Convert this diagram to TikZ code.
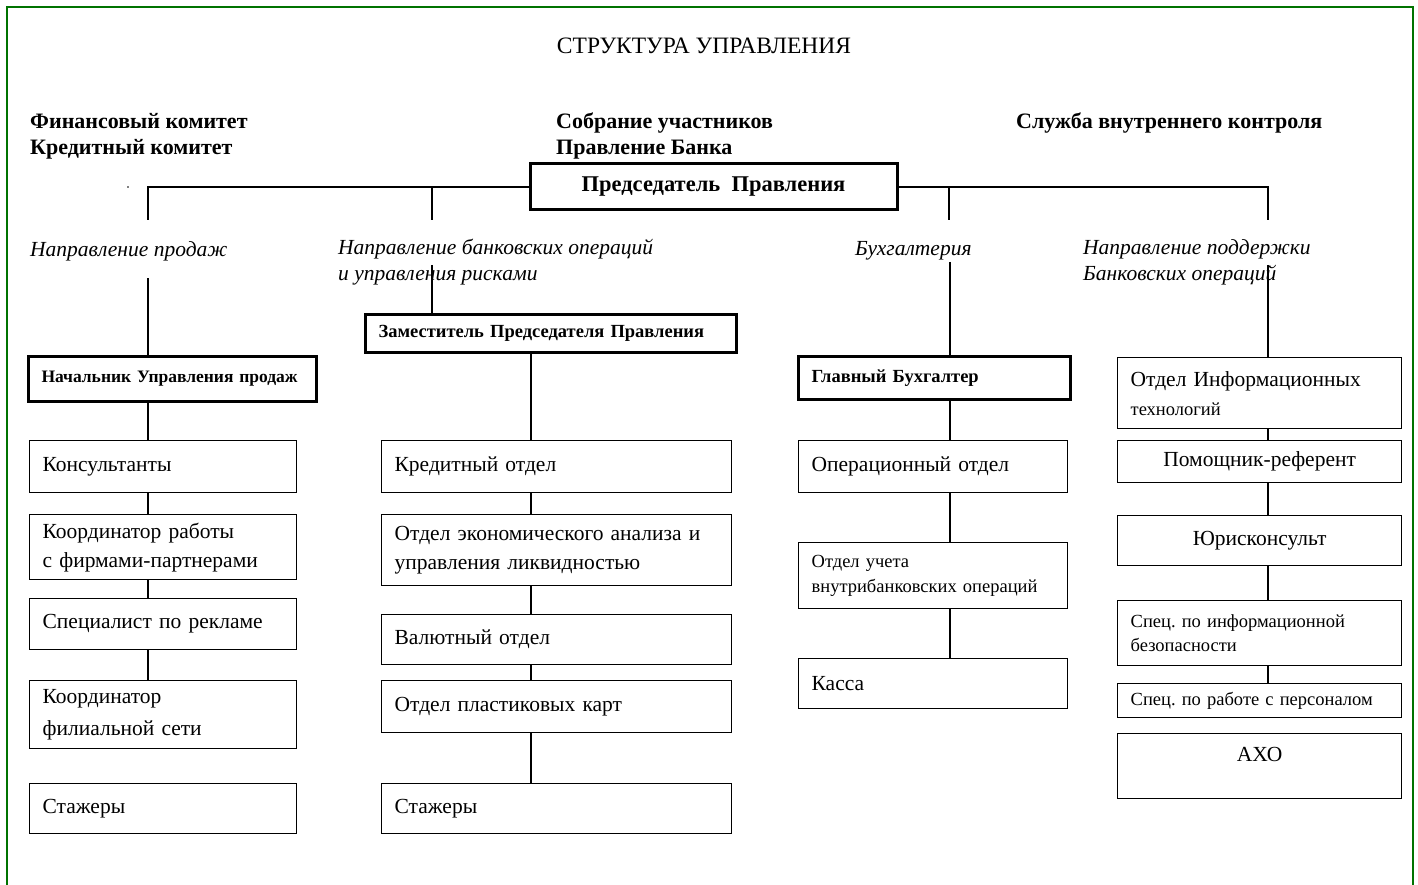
\documentclass[tikz,border=0pt]{standalone}
\usepackage{fontspec}
\setmainfont{Liberation Serif}
\usetikzlibrary{positioning}
\frenchspacing

\tikzset{
  box/.style={draw, line width=1.3pt, anchor=north west, align=left, inner xsep=13pt, inner ysep=2pt, font=\fontsize{21.5}{29}\selectfont},
  cbox/.style={box, align=center},
  sbox/.style={box, font=\fontsize{18.5}{24.5}\selectfont},
  headbox/.style={box, line width=3pt, font=\bfseries\fontsize{18.5}{20}\selectfont},
  toplab/.style={anchor=west, align=left, inner sep=0pt, font=\bfseries\fontsize{22}{26}\selectfont},
  dirlab/.style={anchor=west, align=left, inner sep=0pt, font=\itshape\fontsize{21.5}{26}\selectfont},
  link/.style={line width=1.4pt}
}

\begin{document}
\begin{tikzpicture}[x=1pt,y=-1pt]
\useasboundingbox (0,0) rectangle (1418,885);

%%%%%%%%%%%%    frame and heading   %%%%%%%%%%%%
\draw[green!45!black, line width=2pt] (7,885)--(7,7)--(1413,7)--(1413,885);

\node[inner sep=0pt, font=\fontsize{23.5}{26}\selectfont] (title) at (704,46) {СТРУКТУРА УПРАВЛЕНИЯ};

\node[toplab] (fin) at (30,136) {Финансовый комитет\\Кредитный комитет};
\node[toplab] (meet) at (556,136) {Собрание участников\\Правление Банка};
\node[toplab] (ctrl) at (1016,123) {Служба внутреннего контроля};
\fill (128,187) circle (0.8pt);

\node[box, anchor=center, align=center, line width=3pt, font=\bfseries\fontsize{22.5}{24}\selectfont, minimum width=367pt, minimum height=46pt] (chair) at (713.5,187) {Председатель~~Правления};

% directions
\node[dirlab] (sales) at (30,251) {Направление продаж};
\node[dirlab] (oper) at (338,262) {Направление банковских операций\\и управления рисками};
\node[dirlab] (acc) at (855,251) {Бухгалтерия};
\node[dirlab] (supp) at (1083,262) {Направление поддержки\\Банковских операций};

\coordinate (t1) at (148,220);
\coordinate (t2) at (432,220);
\coordinate (t3) at (949,220);
\coordinate (t4) at (1268,220);
\draw[link] (t1) |- (chair.west);
\draw[link] (t2) |- (chair.west);
\draw[link] (t3) |- (chair.east);
\draw[link] (t4) |- (chair.east);

%%%%%%%%%%%%    sales   %%%%%%%%%%%%
\node[headbox, font=\bfseries\fontsize{17.5}{20}\selectfont, text width=262pt, minimum height=45pt] (k0) at (27,355) {Начальник Управления продаж};
\node[box, text width=241pt, minimum height=52pt] (k1) at (29,440) {Консультанты};
\node[box, text width=241pt, minimum height=65pt] (k2) at (29,514) {Координатор работы\\с фирмами-партнерами};
\node[box, text width=241pt, minimum height=51pt] (k3) at (29,598) {Специалист по рекламе};
\node[box, text width=241pt, minimum height=68pt, font=\fontsize{21.5}{32}\selectfont] (k4) at (29,680) {Координатор\\филиальной сети};
\node[box, text width=241pt, minimum height=50pt] (k5) at (29,783) {Стажеры};

\coordinate (ax1) at (148,278);
\draw[link] (ax1) -- (ax1 |- k0.north);
\draw[link] (ax1 |- k0.south) -- (ax1 |- k1.north);
\draw[link] (ax1 |- k1.south) -- (ax1 |- k2.north);
\draw[link] (ax1 |- k2.south) -- (ax1 |- k3.north);
\draw[link] (ax1 |- k3.south) -- (ax1 |- k4.north);

%%%%%%%%%%%%    bank operations   %%%%%%%%%%%%
\node[headbox, text width=345pt, minimum height=38pt] (m0) at (364,313) {Заместитель Председателя Правления};
\node[box, text width=324pt, minimum height=52pt] (m1) at (381,440) {Кредитный отдел};
\node[box, text width=324pt, minimum height=71pt] (m2) at (381,514) {Отдел экономического анализа и\\управления ликвидностью};
\node[box, text width=324pt, minimum height=50pt] (m3) at (381,614) {Валютный отдел};
\node[box, text width=324pt, minimum height=52pt] (m4) at (381,680) {Отдел пластиковых карт};
\node[box, text width=324pt, minimum height=50pt] (m5) at (381,783) {Стажеры};

\coordinate (up2) at (432,265);
\coordinate (ax2) at (531,351);
\draw[link] (up2) -- (up2 |- m0.north);
\draw[link] (ax2 |- m0.south) -- (ax2 |- m1.north);
\draw[link] (ax2 |- m1.south) -- (ax2 |- m2.north);
\draw[link] (ax2 |- m2.south) -- (ax2 |- m3.north);
\draw[link] (ax2 |- m3.south) -- (ax2 |- m4.north);
\draw[link] (ax2 |- m4.south) -- (ax2 |- m5.north);

%%%%%%%%%%%%    accounting   %%%%%%%%%%%%
\node[headbox, text width=246pt, minimum height=43pt] (a0) at (797,355) {Главный Бухгалтер};
\node[box, text width=243pt, minimum height=52pt] (a1) at (798,440) {Операционный отдел};
\node[sbox, text width=243pt, minimum height=66pt] (a2) at (798,542) {Отдел учета\\внутрибанковских операций};
\node[box, text width=243pt, minimum height=50pt] (a3) at (798,658) {Касса};

\coordinate (ax3) at (950,262);
\draw[link] (ax3) -- (ax3 |- a0.north);
\draw[link] (ax3 |- a0.south) -- (ax3 |- a1.north);
\draw[link] (ax3 |- a1.south) -- (ax3 |- a2.north);
\draw[link] (ax3 |- a2.south) -- (ax3 |- a3.north);

%%%%%%%%%%%%    support   %%%%%%%%%%%%
\node[box, text width=258pt, minimum height=71pt] (s1) at (1117,357) {Отдел Информационных\\{\fontsize{18.5}{24}\selectfont технологий}};
\node[cbox, text width=258pt, minimum height=42pt] (s2) at (1117,440) {Помощник-референт};
\node[cbox, text width=258pt, minimum height=50pt] (s3) at (1117,515) {Юрисконсульт};
\node[sbox, text width=258pt, minimum height=65pt] (s4) at (1117,600) {Спец. по информационной\\безопасности};
\node[sbox, text width=258pt, minimum height=34pt] (s5) at (1117,683) {Спец. по работе с персоналом};
\node[cbox, text width=258pt, inner ysep=13pt, text depth=24pt, minimum height=65pt] (s6) at (1117,733) {АХО};

\coordinate (ax4) at (1268,265);
\draw[link] (ax4) -- (ax4 |- s1.north);
\draw[link] (ax4 |- s1.south) -- (ax4 |- s2.north);
\draw[link] (ax4 |- s2.south) -- (ax4 |- s3.north);
\draw[link] (ax4 |- s3.south) -- (ax4 |- s4.north);
\draw[link] (ax4 |- s4.south) -- (ax4 |- s5.north);

\end{tikzpicture}
\end{document}
